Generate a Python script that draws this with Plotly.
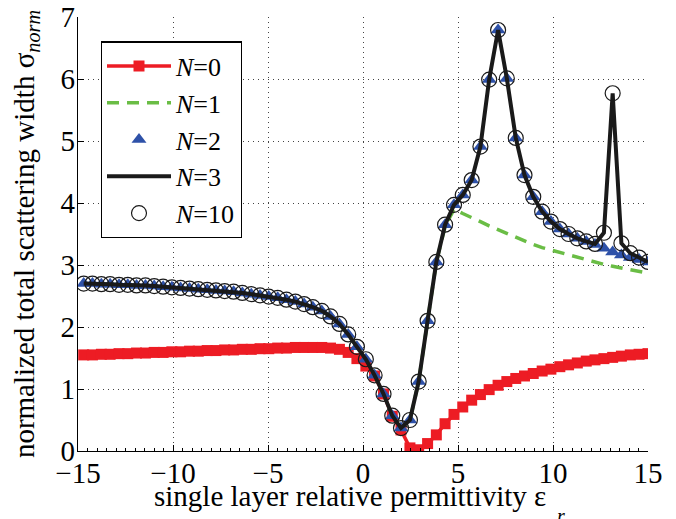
import plotly.graph_objects as go

# relative permittivity samples
eps = [-14.70, -14.24, -13.77, -13.31, -12.84, -12.38, -11.92, -11.45, -10.99, -10.52,
       -10.06, -9.60, -9.13, -8.67, -8.20, -7.74, -7.28, -6.81, -6.35, -5.88,
       -5.42, -4.96, -4.49, -4.03, -3.56, -3.10, -2.64, -2.17, -1.71, -1.24,
       -0.78, -0.32, 0.15, 0.61, 1.08, 1.54, 2.00, 2.47, 2.93, 3.40,
       3.86, 4.32, 4.79, 5.25, 5.72, 6.18, 6.64, 7.11, 7.57, 8.04,
       8.50, 8.96, 9.43, 9.89, 10.36, 10.82, 11.28, 11.75, 12.21, 12.68,
       13.14, 13.60, 14.07, 14.53, 15.00]

n0 = [1.55, 1.55, 1.56, 1.56, 1.57, 1.57, 1.58, 1.58, 1.59, 1.59,
      1.60, 1.60, 1.61, 1.61, 1.62, 1.62, 1.63, 1.63, 1.64, 1.64,
      1.65, 1.65, 1.66, 1.66, 1.67, 1.67, 1.67, 1.67, 1.66, 1.64,
      1.59, 1.49, 1.37, 1.21, 0.92, 0.56, 0.34, 0.05, 0.02, 0.12,
      0.26, 0.44, 0.59, 0.71, 0.82, 0.91, 0.99, 1.06, 1.12, 1.17,
      1.21, 1.25, 1.29, 1.32, 1.36, 1.39, 1.42, 1.45, 1.47, 1.49,
      1.51, 1.53, 1.55, 1.56, 1.57]

n1 = [2.70, 2.70, 2.69, 2.69, 2.68, 2.68, 2.67, 2.67, 2.66, 2.65,
      2.64, 2.63, 2.62, 2.61, 2.60, 2.59, 2.58, 2.57, 2.55, 2.53,
      2.51, 2.49, 2.47, 2.44, 2.41, 2.37, 2.32, 2.26, 2.17, 2.05,
      1.88, 1.68, 1.48, 1.22, 0.92, 0.57, 0.37, 0.50, 1.12, 2.10,
      3.05, 3.62, 3.90, 3.83, 3.77, 3.70, 3.63, 3.57, 3.50, 3.44,
      3.38, 3.33, 3.28, 3.24, 3.20, 3.16, 3.12, 3.08, 3.05, 3.01,
      2.98, 2.95, 2.92, 2.89, 2.87]

n2 = [2.70, 2.70, 2.69, 2.69, 2.68, 2.68, 2.67, 2.67, 2.66, 2.65,
      2.64, 2.63, 2.62, 2.61, 2.60, 2.59, 2.58, 2.57, 2.55, 2.53,
      2.51, 2.49, 2.47, 2.44, 2.41, 2.37, 2.32, 2.26, 2.17, 2.05,
      1.88, 1.68, 1.48, 1.22, 0.92, 0.57, 0.37, 0.50, 1.12, 2.10,
      3.05, 3.65, 3.97, 4.13, 4.37, 4.91, 5.99, 6.79, 6.01, 5.05,
      4.45, 4.10, 3.86, 3.70, 3.58, 3.50, 3.43, 3.38, 3.33, 3.27,
      3.21, 3.16, 3.12, 3.09, 3.05]

n3 = [2.70, 2.70, 2.69, 2.69, 2.68, 2.68, 2.67, 2.67, 2.66, 2.65,
      2.64, 2.63, 2.62, 2.61, 2.60, 2.59, 2.58, 2.57, 2.55, 2.53,
      2.51, 2.49, 2.47, 2.44, 2.41, 2.37, 2.32, 2.26, 2.17, 2.05,
      1.88, 1.68, 1.48, 1.22, 0.92, 0.57, 0.37, 0.50, 1.12, 2.10,
      3.05, 3.65, 3.97, 4.13, 4.37, 4.91, 5.99, 6.79, 6.01, 5.05,
      4.45, 4.10, 3.86, 3.70, 3.58, 3.50, 3.43, 3.38, 3.34, 3.52,
      5.77, 3.35, 3.19, 3.12, 3.05]

n10 = [2.70, 2.70, 2.69, 2.69, 2.68, 2.68, 2.67, 2.67, 2.66, 2.65,
       2.64, 2.63, 2.62, 2.61, 2.60, 2.59, 2.58, 2.57, 2.55, 2.53,
       2.51, 2.49, 2.47, 2.44, 2.41, 2.37, 2.32, 2.26, 2.17, 2.05,
       1.88, 1.68, 1.48, 1.22, 0.92, 0.57, 0.37, 0.50, 1.12, 2.10,
       3.05, 3.65, 3.97, 4.13, 4.37, 4.91, 5.99, 6.79, 6.01, 5.05,
       4.45, 4.10, 3.86, 3.70, 3.58, 3.50, 3.43, 3.38, 3.34, 3.52,
       5.77, 3.35, 3.19, 3.12, 3.05]

FONT = "Liberation Serif"

fig = go.Figure()
fig.add_trace(go.Scatter(x=eps, y=n0, mode="lines+markers", name="<i>N</i>=0",
                         line=dict(color="#ed1c24", width=3.5),
                         marker=dict(symbol="square", size=11, color="#ed1c24")))
fig.add_trace(go.Scatter(x=eps, y=n1, mode="lines", name="<i>N</i>=1",
                         line=dict(color="#6abd45", width=3.5, dash="12px,8px")))
fig.add_trace(go.Scatter(x=eps, y=n2, mode="markers", name="<i>N</i>=2",
                         marker=dict(symbol="triangle-up", size=13, color="#2e51a8")))
fig.add_trace(go.Scatter(x=eps, y=n3, mode="lines", name="<i>N</i>=3",
                         line=dict(color="#1a1a1a", width=4)))
fig.add_trace(go.Scatter(x=eps, y=n10, mode="markers", name="<i>N</i>=10",
                         marker=dict(symbol="circle-open", size=15, color="#1a1a1a",
                                     line=dict(width=1.2, color="#1a1a1a"))))

axis_common = dict(
    showline=True, linecolor="black", linewidth=1.2,
    ticks="inside", ticklen=6, tickcolor="black", tickwidth=1,
    showgrid=True, gridcolor="#444444", gridwidth=1, griddash="1px,4px",
    zeroline=False, mirror=False, automargin=False, ticklabeloverflow="allow",
    tickfont=dict(family=FONT, size=29, color="black"),
)

fig.update_layout(
    width=668, height=511,
    margin=dict(l=70, r=28, t=9, b=68, autoexpand=False),
    paper_bgcolor="white", plot_bgcolor="white",
    font=dict(family=FONT, size=29, color="black"),
    xaxis=dict(range=[-15, 15], dtick=5, tick0=0, ticklabelstandoff=-4,
               minor=dict(ticks="inside", ticklen=3, dtick=0.5, tickcolor="black",
                          showgrid=False),
               **axis_common),
    yaxis=dict(range=[0, 7], dtick=1, tick0=0, ticklabelstandoff=-4,
               title=dict(text="normalized total scattering width σ<sub><i>norm</i></sub>",
                          font=dict(family=FONT, size=29), standoff=17),
               **axis_common),
    legend=dict(x=0.04, y=0.944, xanchor="left", yanchor="top",
                bgcolor="white", bordercolor="black", borderwidth=1.2,
                font=dict(family=FONT, size=26, color="black"),
                itemwidth=64, tracegroupgap=0),
    showlegend=True,
    annotations=[
        dict(text="single layer relative permittivity ε",
             xref="paper", yref="paper", x=0.478, y=-0.062,
             xanchor="center", yanchor="top", showarrow=False,
             font=dict(family=FONT, size=29, color="black")),
        dict(text="<i>r</i>",
             xref="paper", yref="paper", x=0.836, y=-0.12,
             xanchor="left", yanchor="top", showarrow=False,
             font=dict(family=FONT, size=20, color="black")),
    ],
)

fig.write_html("out.html")
